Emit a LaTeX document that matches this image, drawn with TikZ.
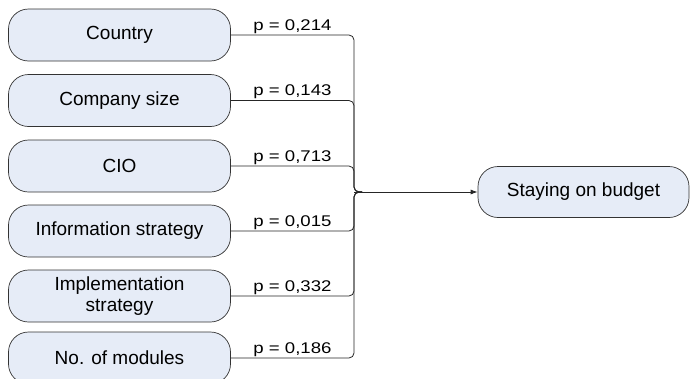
\documentclass[tikz,border=0pt]{standalone}
\usepackage{fontspec}
\setmainfont{Liberation Sans}
\newfontfamily\pvalfont{Liberation Sans}[FakeStretch=1.2]
\usetikzlibrary{arrows.meta}
\definecolor{boxfill}{HTML}{E6ECF7}
\definecolor{boxline}{HTML}{333333}
\begin{document}
\begin{tikzpicture}[x=1pt, y=-1pt,
factor/.style={draw=boxline, line width=0.7pt, fill=boxfill, rounded corners=20pt, minimum width=222pt,
  minimum height=52pt, align=center, font=\fontsize{19}{20.5}\selectfont},
conn/.style={draw=black!85, line width=0.8pt, rounded corners=5pt},
pval/.style={above, pos=0.25, inner sep=1pt, font=\pvalfont\fontsize{15.5}{17}\selectfont}]
\clip (0,0) rectangle (691,378);
% influencing factors
\node[factor] (country) at (119.5,35)  {Country};
\node[factor] (size)    at (119.5,100.5) {Company size};
\node[factor] (cio)     at (119.5,166) {CIO};
\node[factor] (info)    at (119.5,231) {Information strategy};
\node[factor] (impl)    at (119.5,296) {Implementation\\strategy};
\node[factor] (modules) at (119.5,358) {No. of modules};
% outcome
\node[factor, minimum width=211pt, minimum height=51pt] (budget) at (583.5,192) {Staying on budget};
\coordinate (join) at (354,192);
% connectors with p-values
\draw[conn] (country.east) -| node[pval] {p = 0,214} (join) -- ++(8,0);
\draw[conn] (size.east)    -| node[pval] {p = 0,143} (join) -- ++(8,0);
\draw[conn] (cio.east)     -| node[pval] {p = 0,713} (join) -- ++(8,0);
\draw[conn] (info.east)    -| node[pval] {p = 0,015} (join) -- ++(8,0);
\draw[conn] (impl.east)    -| node[pval] {p = 0,332} (join) -- ++(8,0);
\draw[conn] (modules.east) -| node[pval] {p = 0,186} (join) -- ++(8,0);
\draw[conn, -{Latex[length=7pt, width=5pt]}] (join) -- (budget.west);
\end{tikzpicture}
\end{document}
